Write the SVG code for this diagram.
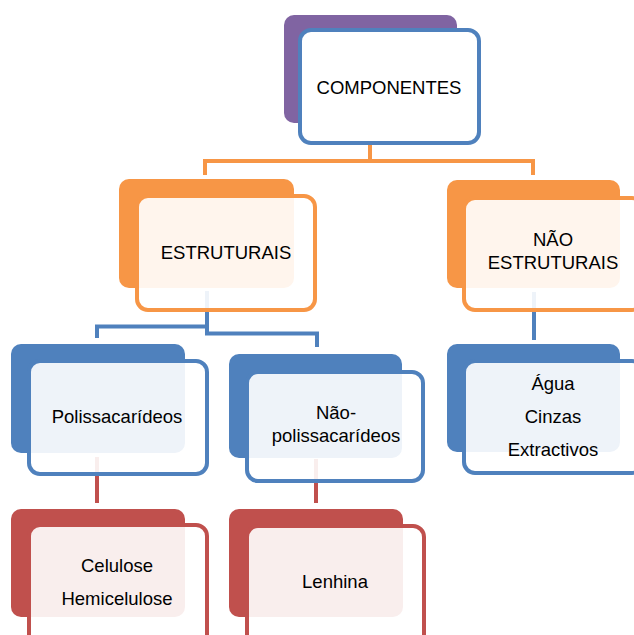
<svg xmlns="http://www.w3.org/2000/svg" width="634" height="635" viewBox="0 0 634 635">
  <style>
    .back { stroke: none; }
    .front { stroke-width: 4; fill: #ffffff; fill-opacity: 0.9; }
    .conn { fill: none; stroke-width: 4; }
    text { font-family: "Liberation Sans", Arial, sans-serif; font-size: 18.5px; fill: #000000; text-anchor: middle; }
    .purple { fill: #8064A2; }
    .blue { fill: #4F81BD; }
    .orange { fill: #F79646; }
    .red { fill: #C0504D; }
    .s-blue { stroke: #4F81BD; }
    .s-orange { stroke: #F79646; }
    .s-red { stroke: #C0504D; }
  </style>
  <rect width="634" height="635" fill="#ffffff"/>

  <g id="connectors">
    <path class="conn s-orange" d="M370,145 V161 M205,175 V161 H533 V175"/>
    <path class="conn s-blue" d="M207,291 V326.5 H97 V338"/>
    <path class="conn s-blue" d="M207,291 V333.5 H317 V347"/>
    <path class="conn s-blue" d="M534,292 V340"/>
    <path class="conn s-red" d="M97,457 V503"/>
    <path class="conn s-red" d="M316,459 V503"/>
  </g>

  <g id="componentes">
    <rect class="back purple" x="284" y="15" width="173" height="108" rx="10"/>
    <rect class="front s-blue" x="300" y="30" width="179" height="113" rx="11" style="fill-opacity:1"/>
    <text x="389" y="94">COMPONENTES</text>
  </g>

  <g id="estruturais">
    <rect class="back orange" x="119" y="179" width="175" height="109" rx="10"/>
    <rect class="front s-orange" x="137" y="196" width="178" height="114" rx="11"/>
    <text x="226" y="259">ESTRUTURAIS</text>
  </g>

  <g id="nao-estruturais">
    <rect class="back orange" x="447" y="180" width="173" height="108" rx="10"/>
    <rect class="front s-orange" x="464" y="198" width="179" height="112" rx="11"/>
    <text x="553" y="246">NÃO</text>
    <text x="553" y="269">ESTRUTURAIS</text>
  </g>

  <g id="polissacarideos">
    <rect class="back blue" x="11" y="344" width="174" height="109" rx="10"/>
    <rect class="front s-blue" x="29" y="361" width="178" height="113" rx="11"/>
    <text x="117" y="423">Polissacarídeos</text>
  </g>

  <g id="nao-polissacarideos">
    <rect class="back blue" x="229" y="354" width="173" height="104" rx="10"/>
    <rect class="front s-blue" x="247" y="372" width="176" height="109" rx="11"/>
    <text x="336" y="419">Não-</text>
    <text x="336" y="442">polissacarídeos</text>
  </g>

  <g id="agua">
    <rect class="back blue" x="447" y="344" width="173" height="108" rx="10"/>
    <rect class="front s-blue" x="464" y="361" width="179" height="112" rx="11"/>
    <text x="553" y="390">Água</text>
    <text x="553" y="423">Cinzas</text>
    <text x="553" y="456">Extractivos</text>
  </g>

  <g id="celulose">
    <rect class="back red" x="11" y="509" width="174" height="108" rx="10"/>
    <rect class="front s-red" x="29" y="525" width="178" height="120" rx="11"/>
    <text x="117" y="572">Celulose</text>
    <text x="117" y="605">Hemicelulose</text>
  </g>

  <g id="lenhina">
    <rect class="back red" x="229" y="509" width="174" height="108" rx="10"/>
    <rect class="front s-red" x="247" y="526" width="177" height="120" rx="11"/>
    <text x="335" y="588">Lenhina</text>
  </g>
</svg>
